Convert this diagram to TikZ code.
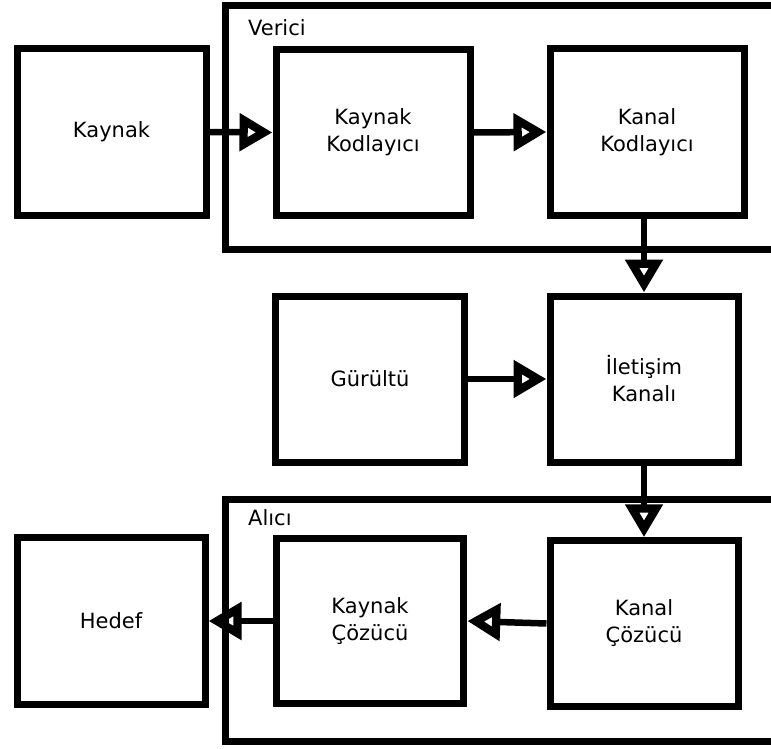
\documentclass[tikz,border=0pt]{standalone}
\usepackage{fontspec}
\setmainfont{DejaVu Sans}
\usetikzlibrary{arrows.meta}

\begin{document}
\begin{tikzpicture}[x=1pt,y=-1pt,
  blk/.style n args={2}{draw, line width=7pt, minimum width=#1pt,
    minimum height=#2pt, inner sep=0pt, align=center,
    font=\fontsize{21}{27}\selectfont},
  grp/.style={draw, line width=7pt},
  grplabel/.style={anchor=base west, inner sep=0pt,
    font=\fontsize{21}{27}\selectfont},
  flow/.style={line width=6.5pt,
    -{Triangle[open, length=33pt, width=36pt, line width=9pt]}}]

\useasboundingbox (0,0) rectangle (771,749);
\clip (0,0) rectangle (771,749);

% transmitter and receiver frames (open towards the right edge)
\draw[grp] (225,6) rectangle (800,249);
\draw[grp] (225,499.5) rectangle (800,741.5);
\node[grplabel] (verici) at (248,36) {Verici};
\node[grplabel] (alici) at (248,525.5) {Alıcı};

% blocks
\node[blk={189}{166}] (kaynak) at (111.5,132) {Kaynak};
\node[blk={194}{165}] (kk) at (373,132.5) {Kaynak\\Kodlayıcı};
\node[blk={194}{166}] (kanalk) at (647,132) {Kanal\\Kodlayıcı};
\node[blk={188.5}{166}] (gurultu) at (370,379) {Gürültü};
\node[blk={188}{166}] (iletisim) at (644,379) {İletişim\\Kanalı};
\node[blk={188}{167}] (hedef) at (111,621) {Hedef};
\node[blk={187.5}{165}] (kc) at (370,621) {Kaynak\\Çözücü};
\node[blk={188}{165.5}] (kanalc) at (644,623.5) {Kanal\\Çözücü};

% signal flow
\draw[flow] (kaynak.east) -- (kk.west);
\draw[flow] (kk.east) -- (kanalk.west);
\draw[flow] (kanalk.south -| iletisim.north) -- (iletisim.north);
\draw[flow] (gurultu.east) -- (iletisim.west);
\draw[flow] (iletisim.south) -- (kanalc.north);
\draw[flow] (kanalc.west) -- (kc.east);
\draw[flow] (kc.west) -- (hedef.east);

\end{tikzpicture}
\end{document}
